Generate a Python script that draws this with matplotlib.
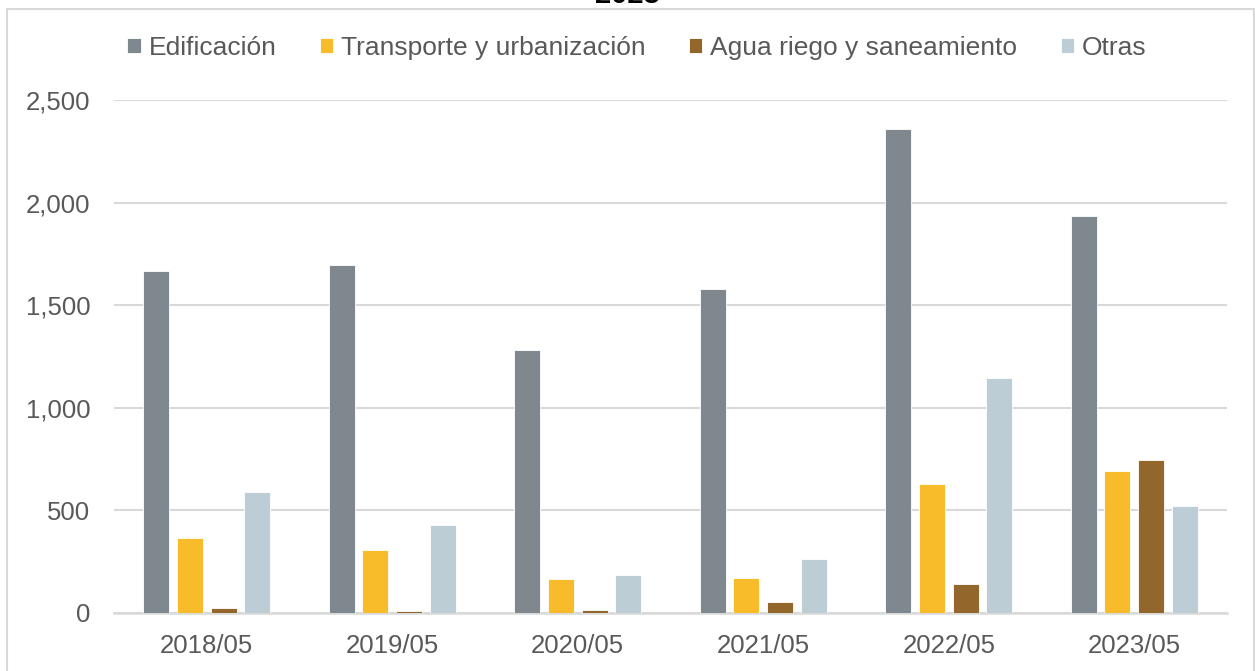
import matplotlib.pyplot as plt
import numpy as np
from matplotlib.patches import Rectangle
import matplotlib as mpl

mpl.rcParams['font.family'] = ['Liberation Sans', 'DejaVu Sans']

periodos = ['2018/05', '2019/05', '2020/05', '2021/05', '2022/05', '2023/05']
edificacion = [1667, 1696, 1282, 1579, 2359, 1935]
transporte = [364, 307, 164, 171, 630, 692]
agua = [24, 10, 17, 55, 143, 744]
otras = [590, 427, 184, 265, 1145, 521]

series = [
    ('Edificación', edificacion, '#7F888E'),
    ('Transporte y urbanización', transporte, '#F8BB2A'),
    ('Agua riego y saneamiento', agua, '#93672B'),
    ('Otras', otras, '#BDCDD6'),
]

GRIS_TEXTO = '#595959'
GRIS_LINEA = '#D9D9D9'

fig = plt.figure(figsize=[12.55, 6.71], dpi=100)
ax = fig.add_axes([114/1255, 1 - 613/671, (1227-114)/1255, (613-100)/671])

x = np.arange(len(periodos))
paso = 0.181
ancho = 0.14
for i, (nombre, valores, color) in enumerate(series):
    ax.bar(x + (i - 1.5)*paso, valores, ancho, color=color, label=nombre,
           edgecolor='white', linewidth=0.6, zorder=3)

ax.set_xlim(-0.5, len(periodos) - 0.5)
ax.set_ylim(0, 2500)
ax.set_yticks(np.arange(0, 2501, 500))
ax.yaxis.set_major_formatter(mpl.ticker.FuncFormatter(lambda v, p: f'{int(v):,}'))
ax.set_xticks(x)
ax.set_xticklabels(periodos)
ax.tick_params(axis='both', length=0, labelsize=18.5, colors=GRIS_TEXTO)
ax.tick_params(axis='y', pad=17)
ax.tick_params(axis='x', pad=15)
ax.grid(axis='y', color=GRIS_LINEA, linewidth=1.5, zorder=0)
for s in ['top', 'right', 'left']:
    ax.spines[s].set_visible(False)
ax.spines['bottom'].set_color(GRIS_LINEA)
ax.spines['bottom'].set_linewidth(1.8)

leg = fig.legend(loc='center', bbox_to_anchor=(637/1255, 1 - 48/671), ncol=4,
                 frameon=False, fontsize=19, handlelength=0.5, handleheight=0.5,
                 handletextpad=0.3, columnspacing=1.65, borderaxespad=0)
for t in leg.get_texts():
    t.set_color(GRIS_TEXTO)

# titulo cortado por arriba
fig.text(0.5, 1 - 3/671, '2023', ha='center', va='baseline', fontsize=21,
         fontweight='bold', color='black')

# marco del grafico
fig.patches.append(Rectangle((7/1255, -0.05), (1254 - 7)/1255, 1.05 - 9/671,
                             transform=fig.transFigure, fill=False,
                             edgecolor=GRIS_LINEA, linewidth=1.5))

fig.savefig('out.png', dpi=100)
